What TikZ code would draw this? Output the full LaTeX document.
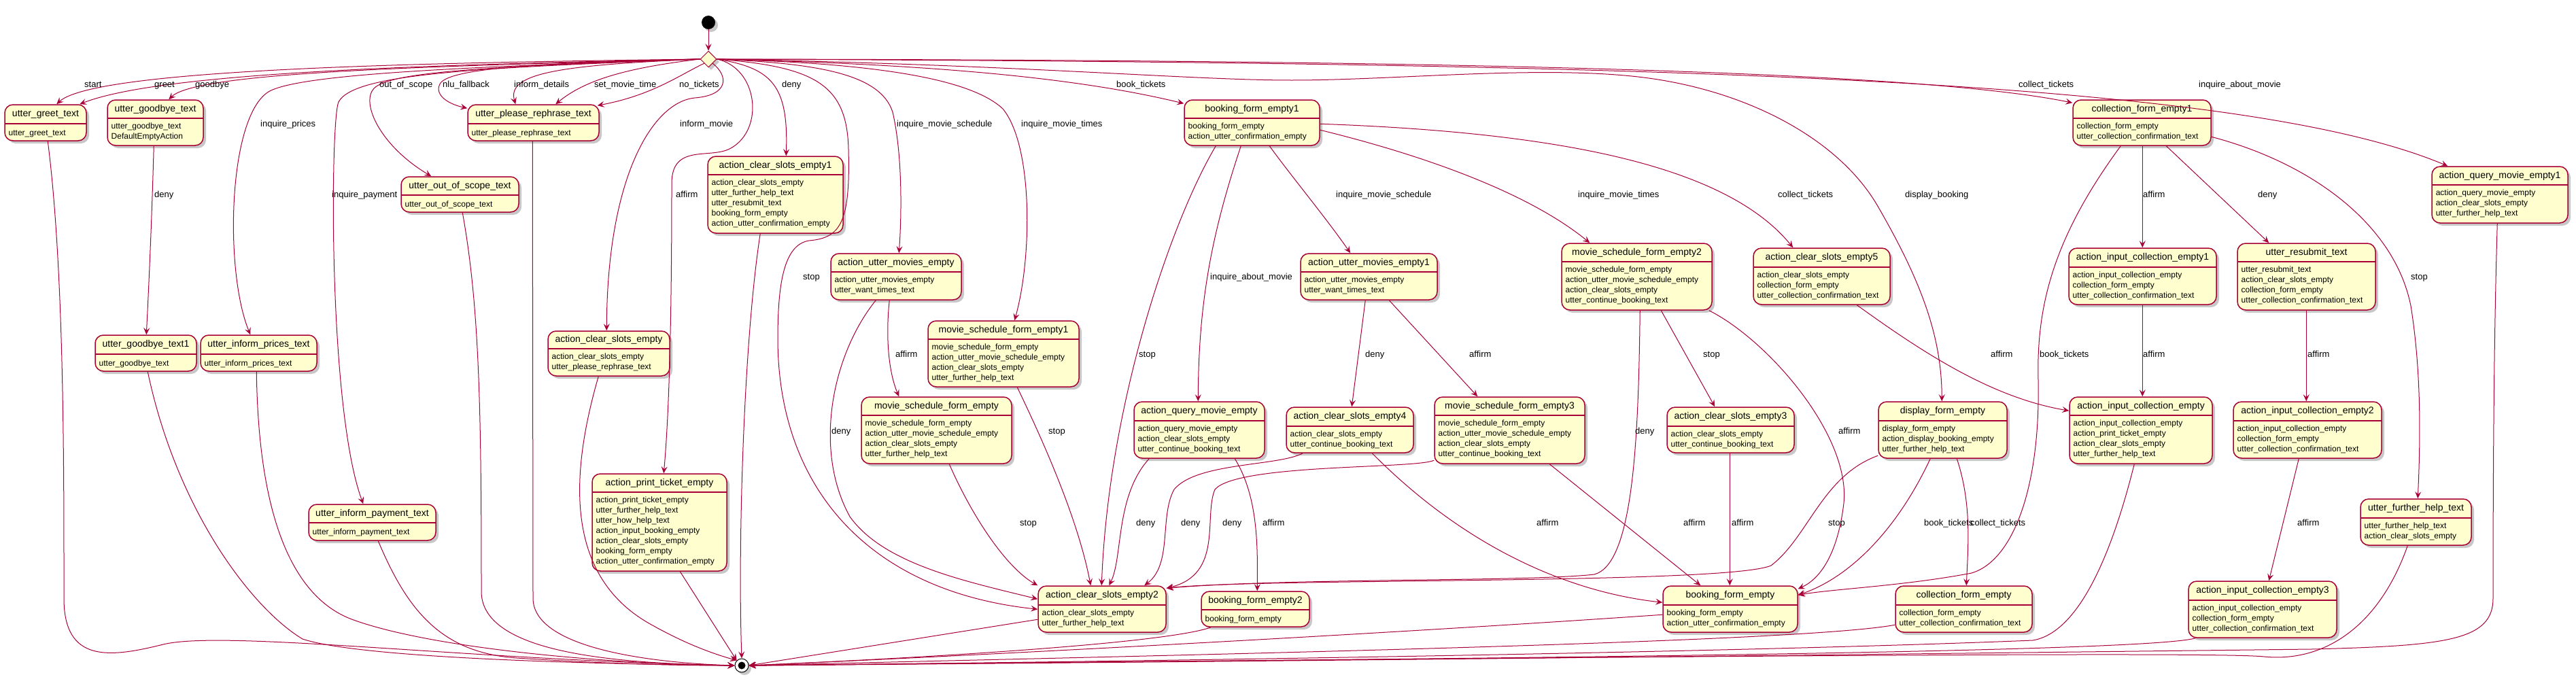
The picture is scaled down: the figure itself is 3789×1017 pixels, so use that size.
\documentclass[tikz,border=0pt]{standalone}
\usepackage{fontspec}
\setmainfont{Liberation Sans}
\usetikzlibrary{arrows.meta,shapes.geometric,shadows,fit}
\definecolor{ucol}{RGB}{168,0,54}
\definecolor{ufill}{RGB}{254,254,206}
\tikzset{
 shad/.style={drop shadow={shadow xshift=4pt, shadow yshift=-4pt, fill=black, opacity=0.22}},
 sbox/.style={draw=ucol, fill=ufill, line width=1.5pt, rounded corners=12pt, inner sep=0pt, shad},
 sepline/.style={draw=ucol, line width=1.5pt},
 stitle/.style={font=\fontsize{14}{17}\selectfont, inner sep=0pt},
 sbody/.style={font=\fontsize{12}{15}\selectfont, align=left, inner sep=0pt, execute at begin node=\strut},
 edge/.style={draw=ucol, line width=1pt, -{Stealth[length=10pt,width=9pt,inset=4pt]}},
 elab/.style={font=\fontsize{13}{15}\selectfont, inner sep=0pt, anchor=west, text height=9.5pt, text depth=3pt},
}
\newcommand\stbox[8]{%
  \node[sbox, fit={(#2,#3) (#4,#5)}] (#1) {};
  \draw[sepline] (#2,#6) -- (#4,#6);
  \node[stitle] (#1TT) at ({(#2+#4)/2},{(#3+#6)/2}) {#7};
  \node[sbody, anchor=north west] (#1BB) at ({#2+5.5},{#6+6.5}) {#8};
}
\newcommand\lb[4]{\node[elab] (#1) at (#2,#3) {#4};}
\begin{document}
\begin{tikzpicture}[x=1pt,y=-1pt]
\useasboundingbox[fill=white] (0,0) rectangle (3789,1017);

% pseudo states
\node[circle, fill=black, minimum size=20pt, inner sep=0pt, shad] (ini) at (1042,33) {};
\node[diamond, draw=ucol, fill=ufill, line width=1pt, minimum width=24pt, minimum height=24pt, inner sep=0pt, shad] (ch) at (1042,87) {};
\node[circle, draw=black, fill=white, line width=1pt, minimum size=20pt, inner sep=0pt, shad] (fin) at (1091,979) {};
\fill (fin.center) circle (5.5pt);

% states
\stbox{gr}{7}{154}{127}{207}{182}{utter\_greet\_text}{utter\_greet\_text}
\stbox{gb}{158}{147}{299}{214}{174}{utter\_goodbye\_text}{utter\_goodbye\_text\\DefaultEmptyAction}
\stbox{gbo}{140}{493}{289}{546}{521}{utter\_goodbye\_text1}{utter\_goodbye\_text}
\stbox{ip}{295}{493}{466}{546}{521}{utter\_inform\_prices\_text}{utter\_inform\_prices\_text}
\stbox{ipay}{454}{742}{641}{795}{769}{utter\_inform\_payment\_text}{utter\_inform\_payment\_text}
\stbox{oos}{590}{260}{763}{312}{287}{utter\_out\_of\_scope\_text}{utter\_out\_of\_scope\_text}
\stbox{rep}{688}{154}{881}{207}{182}{utter\_please\_rephrase\_text}{utter\_please\_rephrase\_text}
\stbox{acse}{806}{487}{985}{553}{513}{action\_clear\_slots\_empty}{action\_clear\_slots\_empty\\utter\_please\_rephrase\_text}
\stbox{apt}{871}{697}{1069}{840}{724}{action\_print\_ticket\_empty}{action\_print\_ticket\_empty\\utter\_further\_help\_text\\utter\_how\_help\_text\\action\_input\_booking\_empty\\action\_clear\_slots\_empty\\booking\_form\_empty\\action\_utter\_confirmation\_empty}
\stbox{acsa}{1041}{230}{1240}{343}{257}{action\_clear\_slots\_empty1}{action\_clear\_slots\_empty\\utter\_further\_help\_text\\utter\_resubmit\_text\\booking\_form\_empty\\action\_utter\_confirmation\_empty}
\stbox{aume}{1222}{373}{1414}{441}{400}{action\_utter\_movies\_empty}{action\_utter\_movies\_empty\\utter\_want\_times\_text}
\stbox{msfa}{1365}{472}{1587}{569}{499}{movie\_schedule\_form\_empty1}{movie\_schedule\_form\_empty\\action\_utter\_movie\_schedule\_empty\\action\_clear\_slots\_empty\\utter\_further\_help\_text}
\stbox{msf}{1267}{584}{1488}{682}{611}{movie\_schedule\_form\_empty}{movie\_schedule\_form\_empty\\action\_utter\_movie\_schedule\_empty\\action\_clear\_slots\_empty\\utter\_further\_help\_text}
\stbox{acsb}{1527}{862}{1715}{930}{890}{action\_clear\_slots\_empty2}{action\_clear\_slots\_empty\\utter\_further\_help\_text}
\stbox{bfea}{1742}{147}{1941}{214}{174}{booking\_form\_empty1}{booking\_form\_empty\\action\_utter\_confirmation\_empty}
\stbox{aqm}{1668}{591}{1860}{674}{619}{action\_query\_movie\_empty}{action\_query\_movie\_empty\\action\_clear\_slots\_empty\\utter\_continue\_booking\_text}
\stbox{bfeb}{1767}{870}{1926}{922}{897}{booking\_form\_empty2}{booking\_form\_empty}
\stbox{aumea}{1913}{373}{2114}{441}{400}{action\_utter\_movies\_empty1}{action\_utter\_movies\_empty\\utter\_want\_times\_text}
\stbox{msfb}{2297}{358}{2518}{456}{385}{movie\_schedule\_form\_empty2}{movie\_schedule\_form\_empty\\action\_utter\_movie\_schedule\_empty\\action\_clear\_slots\_empty\\utter\_continue\_booking\_text}
\stbox{acsd}{1892}{599}{2079}{666}{627}{action\_clear\_slots\_empty4}{action\_clear\_slots\_empty\\utter\_continue\_booking\_text}
\stbox{msfc}{2110}{584}{2331}{682}{611}{movie\_schedule\_form\_empty3}{movie\_schedule\_form\_empty\\action\_utter\_movie\_schedule\_empty\\action\_clear\_slots\_empty\\utter\_continue\_booking\_text}
\stbox{bfe}{2446}{862}{2644}{930}{890}{booking\_form\_empty}{booking\_form\_empty\\action\_utter\_confirmation\_empty}
\stbox{acsc}{2452}{599}{2639}{666}{627}{action\_clear\_slots\_empty3}{action\_clear\_slots\_empty\\utter\_continue\_booking\_text}
\stbox{acse5}{2579}{365}{2780}{448}{393}{action\_clear\_slots\_empty5}{action\_clear\_slots\_empty\\collection\_form\_empty\\utter\_collection\_confirmation\_text}
\stbox{dfe}{2763}{591}{2952}{674}{619}{display\_form\_empty}{display\_form\_empty\\action\_display\_booking\_empty\\utter\_further\_help\_text}
\stbox{cfe}{2788}{862}{2989}{930}{890}{collection\_form\_empty}{collection\_form\_empty\\utter\_collection\_confirmation\_text}
\stbox{cfea}{3049}{147}{3252}{214}{174}{collection\_form\_empty1}{collection\_form\_empty\\utter\_collection\_confirmation\_text}
\stbox{aica}{3043}{365}{3260}{448}{393}{action\_input\_collection\_empty1}{action\_input\_collection\_empty\\collection\_form\_empty\\utter\_collection\_confirmation\_text}
\stbox{aic}{3044}{584}{3254}{682}{611}{action\_input\_collection\_empty}{action\_input\_collection\_empty\\action\_print\_ticket\_empty\\action\_clear\_slots\_empty\\utter\_further\_help\_text}
\stbox{urs}{3291}{358}{3494}{456}{385}{utter\_resubmit\_text}{utter\_resubmit\_text\\action\_clear\_slots\_empty\\collection\_form\_empty\\utter\_collection\_confirmation\_text}
\stbox{aqma}{3577}{245}{3777}{328}{272}{action\_query\_movie\_empty1}{action\_query\_movie\_empty\\action\_clear\_slots\_empty\\utter\_further\_help\_text}
\stbox{aicb}{3285}{591}{3503}{674}{619}{action\_input\_collection\_empty2}{action\_input\_collection\_empty\\collection\_form\_empty\\utter\_collection\_confirmation\_text}
\stbox{ufh}{3472}{734}{3635}{802}{762}{utter\_further\_help\_text}{utter\_further\_help\_text\\action\_clear\_slots\_empty}
\stbox{aicc}{3219}{855}{3437}{938}{883}{action\_input\_collection\_empty3}{action\_input\_collection\_empty\\collection\_form\_empty\\utter\_collection\_confirmation\_text}

% initial
\draw[edge] (ini) -- (ch);

% from choice, leftwards
\draw[edge] (ch.west) .. controls (650,92) and (140,100) .. ([xshift=77pt]gr.north west);
\draw[edge] (ch.west) .. controls (650,95) and (240,105) .. ([xshift=111pt]gr.north west);
\draw[edge] (ch.west) .. controls (650,97) and (290,105) .. ([xshift=91pt]gb.north west);
\draw[edge] (ch.west) .. controls (700,98) and (440,108) .. (395,135) .. controls (335,172) and (330,400) .. ([xshift=74pt]ip.north west);
\draw[edge] (ch.west) .. controls (700,100) and (520,108) .. (498,150) .. controls (486,175) and (482,600) .. ([xshift=81pt]ipay.north west);
\draw[edge] (ch.west) .. controls (720,98) and (575,105) .. (550,130) .. controls (530,152) and (560,215) .. ([xshift=45pt]oos.north west);
\draw[edge] (ch.west) .. controls (800,92) and (665,100) .. (648,122) .. controls (638,137) and (655,152) .. ([yshift=-6pt]rep.north west);
\draw[edge] (ch.west) .. controls (820,96) and (745,108) .. ([xshift=71pt]rep.north west);
\draw[edge] (ch.west) .. controls (920,100) and (860,118) .. ([xshift=130pt]rep.north west);
\draw[edge] (ch.south west) .. controls (1000,110) and (960,140) .. ([xshift=-3pt,yshift=-2pt]rep.north east);
% from choice, downwards / rightwards
\draw[edge] (ch.south east) .. controls (1072,112) and (1072,140) .. (1022,144) .. controls (960,150) and (893,260) .. ([xshift=87pt]acse.north west);
\draw[edge] (ch.east) .. controls (1115,100) and (1125,190) .. (1075,218) .. controls (1045,235) and (988,210) .. (988,270) .. controls (988,450) and (985,600) .. ([xshift=106pt]apt.north west);
\draw[edge] (ch.east) .. controls (1135,100) and (1160,125) .. ([xshift=116pt]acsa.north west);
\draw[edge] (ch.east) .. controls (1200,98) and (1246,125) .. (1248,220) .. controls (1251,330) and (1235,350) .. (1190,354) .. controls (1152,360) and (1144,420) .. (1144,500) .. controls (1145,720) and (1280,870) .. ([yshift=-35pt]acsb.north west);
\draw[edge] (ch.east) .. controls (1200,93) and (1295,108) .. (1313,165) .. controls (1328,230) and (1326,320) .. ([xshift=101pt]aume.north west);
\draw[edge] (ch.east) .. controls (1300,93) and (1430,118) .. (1475,160) .. controls (1520,215) and (1518,380) .. ([xshift=128pt]msfa.north west);
\draw[edge] (ch.east) .. controls (1400,95) and (1600,118) .. ([yshift=-6pt]bfea.north west);
\draw[edge] (ch.east) .. controls (2000,88) and (2800,100) .. ([yshift=-5pt]cfea.north west);
\draw[edge] (ch.east) .. controls (2500,92) and (3300,118) .. ([xshift=24pt]aqma.north west);
\draw[edge] (ch.east) .. controls (1500,95) and (1750,118) .. (1900,118) .. controls (2050,118) and (2250,97) .. (2400,112) .. controls (2560,128) and (2700,200) .. (2760,300) .. controls (2830,420) and (2856,500) .. ([xshift=94pt]dfe.north west);

% goodbye
\draw[edge] ([xshift=69pt]gb.south west) .. controls (224,300) and (220,400) .. ([xshift=76pt]gbo.north west);

% booking_form_empty1
\draw[edge] ([xshift=47pt]bfea.south west) .. controls (1720,330) and (1630,600) .. ([xshift=94pt]acsb.north west);
\draw[edge] ([xshift=84pt]bfea.south west) .. controls (1780,350) and (1763,450) .. ([xshift=95pt]aqm.north west);
\draw[edge] ([xshift=126pt]bfea.south west) .. controls (1900,260) and (1950,320) .. ([xshift=74pt]aumea.north west);
\draw[edge] ([yshift=-45pt]bfea.north east) .. controls (2100,230) and (2250,285) .. ([xshift=42pt]msfb.north west);
\draw[edge] ([yshift=-36pt]bfea.north east) .. controls (2300,195) and (2540,245) .. ([xshift=59pt]acse5.north west);

% action_utter_movies_empty
\draw[edge] ([xshift=87pt]aume.south west) .. controls (1302,500) and (1308,550) .. ([xshift=56pt]msf.north west);
\draw[edge] ([xshift=67pt]aume.south west) .. controls (1225,520) and (1195,660) .. (1250,760) .. controls (1300,830) and (1420,855) .. ([yshift=-20pt]acsb.north west);
\draw[edge] ([xshift=132pt]msfa.south west) .. controls (1530,640) and (1585,760) .. ([xshift=78pt]acsb.north west);
\draw[edge] ([xshift=130pt]msf.south west) .. controls (1430,760) and (1480,835) .. (acsb.north west);

% action_query_movie_empty
\draw[edge] ([xshift=23pt]aqm.south west) .. controls (1640,730) and (1652,820) .. ([xshift=105pt]acsb.north west);
\draw[edge] ([xshift=149pt]aqm.south west) .. controls (1850,730) and (1850,800) .. ([xshift=83pt]bfeb.north west);

% action_clear_slots_empty4
\draw[edge] ([xshift=25pt]acsd.south west) .. controls (1880,686) and (1760,680) .. (1727,720) .. controls (1705,760) and (1725,830) .. ([xshift=157pt]acsb.north west);
\draw[edge] ([xshift=127pt]acsd.south west) .. controls (2150,800) and (2300,870) .. ([yshift=-25pt]bfe.north west);

% movie_schedule_form_empty3
\draw[edge] ([yshift=-94pt]msfc.north west) .. controls (2080,690) and (1820,682) .. (1787,720) .. controls (1770,760) and (1800,845) .. ([yshift=-4pt]acsb.north east);
\draw[edge] ([xshift=170pt]msfc.south west) -- ([xshift=56pt]bfe.north west);

% action_utter_movies_empty1
\draw[edge] ([xshift=96pt]aumea.south west) -- ([xshift=97pt]acsd.north west);
\draw[edge] ([xshift=131pt]aumea.south west) -- ([xshift=64pt]msfc.north west);

% movie_schedule_form_empty2
\draw[edge] ([xshift=116pt]msfb.south west) .. controls (2410,650) and (2402,830) .. (2345,845) .. controls (2250,856) and (1900,850) .. ([yshift=-4pt]acsb.north east);
\draw[edge] ([xshift=147pt]msfb.south west) -- ([xshift=71pt]acsc.north west);
\draw[edge] ([xshift=-5pt]msfb.south east) .. controls (2600,500) and (2722,640) .. (2712,740) .. controls (2705,800) and (2685,848) .. ([yshift=-5pt]bfe.north east);

% action_clear_slots_empty3 / 5
\draw[edge] ([xshift=93pt]acsc.south west) -- ([xshift=99pt]bfe.north west);
\draw[edge] ([xshift=153pt]acse5.south west) .. controls (2830,520) and (2930,585) .. ([yshift=-21pt]aic.north west);

% display_form_empty
\draw[edge] ([yshift=-80pt]dfe.north west) .. controls (2680,700) and (2660,790) .. (2605,832) .. controls (2540,860) and (1850,850) .. ([yshift=-4pt]acsb.north east);
\draw[edge] ([xshift=77pt]dfe.south west) .. controls (2790,780) and (2720,850) .. ([yshift=-14pt]bfe.north east);
\draw[edge] ([xshift=116pt]dfe.south west) .. controls (2900,740) and (2895,800) .. ([xshift=105pt]cfe.north west);

% collection_form_empty1
\draw[edge] ([xshift=103pt]cfea.south west) -- ([xshift=109pt]aica.north west);
\draw[edge] ([xshift=138pt]cfea.south west) -- ([xshift=47pt]urs.north west);
\draw[edge] ([yshift=-55pt]cfea.north east) .. controls (3400,240) and (3522,330) .. (3546,450) .. controls (3562,550) and (3560,650) .. ([xshift=85pt]ufh.north west);
\draw[edge] ([xshift=71pt]cfea.south west) .. controls (3020,350) and (2995,450) .. (2998,560) .. controls (3001,720) and (2960,825) .. (2900,843) .. controls (2800,862) and (2700,866) .. ([yshift=-14pt]bfe.north east);

\draw[edge] ([xshift=109pt]aica.south west) -- ([xshift=108pt]aic.north west);
\draw[edge] ([xshift=102pt]urs.south west) -- ([xshift=108pt]aicb.north west);
\draw[edge] ([xshift=97pt]aicb.south west) -- ([xshift=119pt]aicc.north west);

% to final
\draw[edge] ([xshift=64pt]gr.south west) .. controls (95,400) and (94,700) .. (94,880) .. controls (94,975) and (160,968) .. (240,948) .. controls (330,926) and (700,972) .. (fin.west);
\draw[edge] ([xshift=78pt]gbo.south west) .. controls (260,750) and (370,895) .. (445,940) .. controls (520,965) and (800,976) .. (fin.west);
\draw[edge] ([xshift=83pt]ip.south west) .. controls (380,760) and (430,880) .. (520,912) .. controls (640,955) and (900,977) .. (fin.west);
\draw[edge] ([xshift=103pt]ipay.south west) .. controls (600,900) and (650,960) .. (760,968) .. controls (900,977) and (1000,979) .. (fin.west);
\draw[edge] ([xshift=91pt]oos.south west) .. controls (705,450) and (708,600) .. (708,870) .. controls (708,960) and (900,976) .. (fin.west);
\draw[edge] ([xshift=96pt]rep.south west) -- (784,880) .. controls (784,952) and (950,975) .. (fin.west);
\draw[edge] ([xshift=75pt]acse.south west) .. controls (838,700) and (830,850) .. (960,920) .. controls (1010,948) and (1050,962) .. (fin.north west);
\draw[edge] ([xshift=130pt]apt.south west) -- (fin.north west);
\draw[edge] ([xshift=78pt]acsa.south west) .. controls (1094,500) and (1085,800) .. (fin.north);
\draw[edge] ([yshift=-50pt]acsb.north west) -- (fin.east);
\draw[edge] ([xshift=15pt]bfeb.south west) .. controls (1720,945) and (1400,966) .. (fin.east);
\draw[edge] ([yshift=-43pt]bfe.north west) .. controls (2000,935) and (1400,966) .. (fin.east);
\draw[edge] ([yshift=-58pt]cfe.north west) .. controls (2650,945) and (1800,962) .. (fin.east);
\draw[edge] ([xshift=96pt]aic.south west) .. controls (3110,800) and (3062,930) .. (2990,942) .. controls (2500,962) and (1500,975) .. (fin.east);
\draw[edge] ([xshift=11pt]aicc.south west) .. controls (3150,962) and (2000,970) .. (fin.east);
\draw[edge] ([xshift=70pt]ufh.south west) .. controls (3500,920) and (3420,975) .. (3330,966) .. controls (3250,957) and (2000,970) .. (fin.east);
\draw[edge] ([xshift=97pt]aqma.south west) .. controls (3668,500) and (3667,700) .. (3667,880) .. controls (3667,942) and (3600,950) .. (3400,955) .. controls (2800,962) and (2000,972) .. (fin.east);

% labels
\lb{l1}{124}{125}{start}
\lb{l2}{227}{125}{greet}
\lb{l3}{287}{125}{goodbye}
\lb{l4}{383}{183}{inquire\_prices}
\lb{l5}{227}{287}{deny}
\lb{l6}{488}{287}{inquire\_payment}
\lb{l7}{558}{125}{out\_of\_scope}
\lb{l8}{651}{125}{nlu\_fallback}
\lb{l9}{756}{125}{inform\_details}
\lb{l10}{874}{125}{set\_movie\_time}
\lb{l11}{999}{125}{no\_tickets}
\lb{l12}{1000}{183}{inform\_movie}
\lb{l13}{1150}{125}{deny}
\lb{l14}{994}{287}{affirm}
\lb{l15}{1181}{408}{stop}
\lb{l16}{1319}{183}{inquire\_movie\_schedule}
\lb{l17}{1502}{183}{inquire\_movie\_times}
\lb{l18}{1642}{125}{book\_tickets}
\lb{l19}{1780}{408}{inquire\_about\_movie}
\lb{l20}{1675}{522}{stop}
\lb{l21}{1317}{522}{affirm}
\lb{l22}{1223}{635}{deny}
\lb{l23}{1542}{635}{stop}
\lb{l24}{1500}{770}{stop}
\lb{l25}{1671}{770}{deny}
\lb{l26}{1737}{770}{deny}
\lb{l27}{1798}{770}{deny}
\lb{l28}{1857}{770}{affirm}
\lb{l29}{1965}{287}{inquire\_movie\_schedule}
\lb{l30}{2321}{287}{inquire\_movie\_times}
\lb{l31}{2008}{522}{deny}
\lb{l32}{2161}{522}{affirm}
\lb{l33}{2405}{635}{deny}
\lb{l34}{2505}{522}{stop}
\lb{l35}{2260}{770}{affirm}
\lb{l36}{2476}{770}{affirm}
\lb{l37}{2969}{125}{collect\_tickets}
\lb{l38}{2615}{287}{collect\_tickets}
\lb{l39}{2802}{287}{display\_booking}
\lb{l40}{2928}{522}{affirm}
\lb{l41}{3000}{522}{book\_tickets}
\lb{l42}{2704}{635}{affirm}
\lb{l43}{2547}{770}{affirm}
\lb{l44}{2689}{770}{stop}
\lb{l45}{2830}{770}{book\_tickets}
\lb{l46}{2898}{770}{collect\_tickets}
\lb{l47}{3152}{287}{affirm}
\lb{l48}{3234}{125}{inquire\_about\_movie}
\lb{l49}{3321}{287}{deny}
\lb{l50}{3546}{408}{stop}
\lb{l51}{3394}{522}{affirm}
\lb{l52}{3379}{770}{affirm}
\lb{l53}{3152}{522}{affirm}
\end{tikzpicture}
\end{document}
